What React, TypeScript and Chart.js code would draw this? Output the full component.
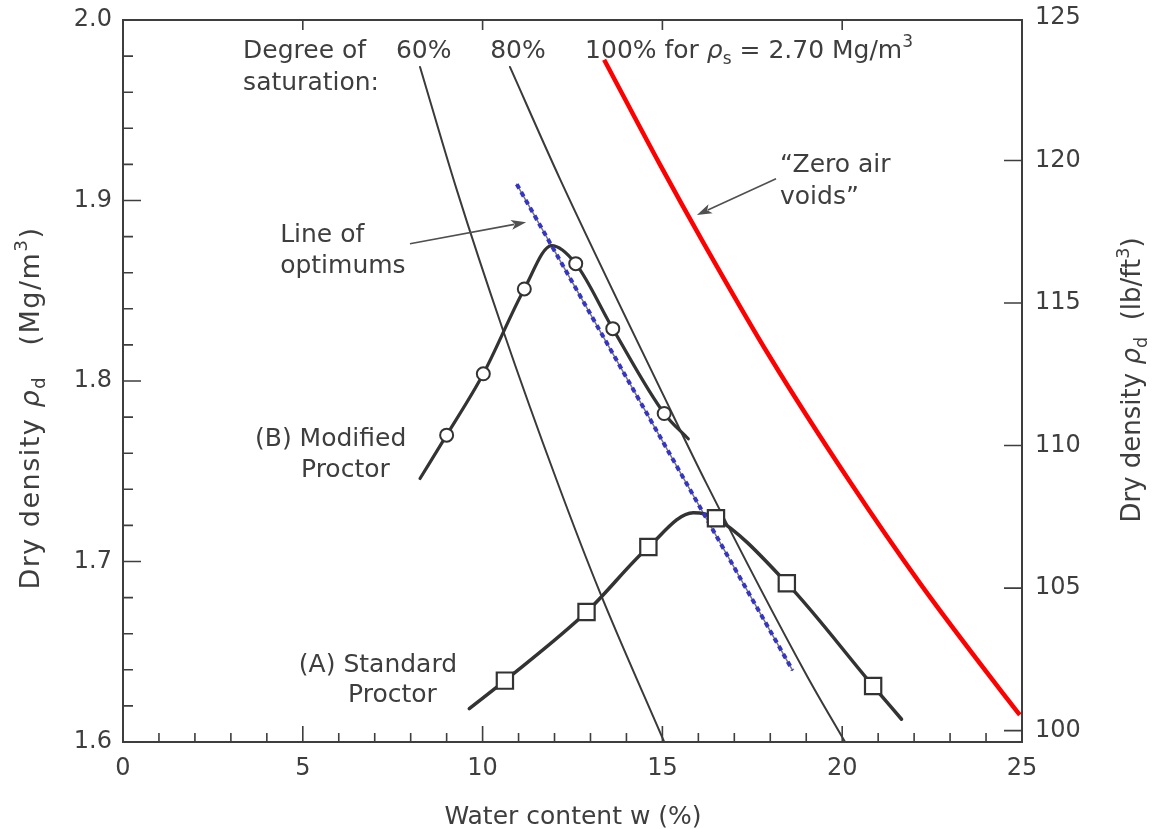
import React, { useEffect, useRef } from 'react';
import { Chart, registerables } from 'chart.js';

Chart.register(...registerables);

// ---------- data ----------
const waterTicks = [0, 5, 10, 15, 20, 25];
const densityTicks = [1.6, 1.7, 1.8, 1.9, 2.0];
const lbTicks = [100, 105, 110, 115, 120, 125];

// (B) Modified Proctor
const modifiedCurveW = [8.26, 9.0, 10.02, 11.16, 11.92, 12.59, 13.62, 15.05, 15.72];
const modifiedCurveRho = [1.746, 1.77, 1.804, 1.851, 1.875, 1.865, 1.829, 1.782, 1.768];
const modifiedPointW = [9.0, 10.02, 11.16, 12.59, 13.62, 15.05];
const modifiedPointRho = [1.77, 1.804, 1.851, 1.865, 1.829, 1.782];

// (A) Standard Proctor
const standardCurveW = [9.63, 10.62, 12.89, 14.61, 15.86, 16.49, 18.46, 20.86, 21.65];
const standardCurveRho = [1.6185, 1.634, 1.672, 1.708, 1.727, 1.724, 1.688, 1.631, 1.6126];
const standardPointW = [10.62, 12.89, 14.61, 16.49, 18.46, 20.86];
const standardPointRho = [1.634, 1.672, 1.708, 1.724, 1.688, 1.631];

// Degree of saturation lines
const sat60W = [8.26, 9.28, 10.57, 12.06, 13.26, 15.05];
const sat60Rho = [1.974, 1.906, 1.828, 1.745, 1.683, 1.6];
const sat80W = [10.76, 12.15, 15.03, 16.23, 19.01, 20.08];
const sat80Rho = [1.974, 1.912, 1.792, 1.743, 1.637, 1.6];
const sat100W = [13.38, 14.93, 16.13, 18.0, 20.22, 22.16, 24.39, 24.94];
const sat100Rho = [1.978, 1.92, 1.877, 1.813, 1.744, 1.688, 1.629, 1.615];

// Line of optimums
const optimumW = [10.95, 18.62];
const optimumRho = [1.909, 1.6397];

// right axis (lb/ft3) range as printed against the left axis
const lbMin = 99.6;
const lbMax = 124.93;

// ---------- styles ----------
const INK = '#3e3e3e';
const FONT = 'DejaVu Sans';

type Seg = { t: string; k?: 'i' | 'sub' | 'sup' };

const fontFor = (size: number, k?: string) => {
  if (k === 'sub' || k === 'sup') return `${(size * 0.68).toFixed(1)}px "${FONT}"`;
  if (k === 'i') return `italic ${size}px "${FONT}"`;
  return `${size}px "${FONT}"`;
};

const measureRich = (ctx: CanvasRenderingContext2D, segs: Seg[], size: number) => {
  let w = 0;
  for (const s of segs) {
    ctx.font = fontFor(size, s.k);
    w += ctx.measureText(s.t).width;
  }
  return w;
};

const drawRich = (
  ctx: CanvasRenderingContext2D,
  segs: Seg[],
  x: number,
  yMid: number,
  size: number,
  align: 'left' | 'center' = 'left'
) => {
  let cx = x;
  if (align === 'center') cx = x - measureRich(ctx, segs, size) / 2;
  const base = yMid + size * 0.36;
  ctx.textAlign = 'left';
  ctx.textBaseline = 'alphabetic';
  for (const s of segs) {
    ctx.font = fontFor(size, s.k);
    let by = base;
    if (s.k === 'sub') by = base + size * 0.24;
    if (s.k === 'sup') by = base - size * 0.42;
    ctx.fillText(s.t, cx, by);
    cx += ctx.measureText(s.t).width;
  }
};

// annotation placement in data coordinates (left edge, vertical middle)
const notes: { x: number; y: number; segs: Seg[] }[] = [
  { x: 3.34, y: 1.984, segs: [{ t: 'Degree of' }] },
  { x: 3.34, y: 1.966, segs: [{ t: 'saturation:' }] },
  { x: 7.59, y: 1.984, segs: [{ t: '60%' }] },
  { x: 10.21, y: 1.984, segs: [{ t: '80%' }] },
  {
    x: 12.85,
    y: 1.984,
    segs: [
      { t: '100% for ' },
      { t: 'ρ', k: 'i' },
      { t: 's', k: 'sub' },
      { t: ' = 2.70 Mg/m' },
      { t: '3', k: 'sup' },
    ],
  },
  { x: 4.37, y: 1.882, segs: [{ t: 'Line of' }] },
  { x: 4.37, y: 1.865, segs: [{ t: 'optimums' }] },
  { x: 3.67, y: 1.769, segs: [{ t: '(B) Modified' }] },
  { x: 4.95, y: 1.752, segs: [{ t: 'Proctor' }] },
  { x: 4.89, y: 1.644, segs: [{ t: '(A) Standard' }] },
  { x: 6.26, y: 1.627, segs: [{ t: 'Proctor' }] },
  { x: 18.27, y: 1.921, segs: [{ t: '\u201CZero air' }] },
  { x: 18.27, y: 1.903, segs: [{ t: 'voids\u201D' }] },
];

const arrows = [
  { from: [7.98, 1.876], to: [11.21, 1.888] },
  { from: [18.16, 1.912], to: [15.96, 1.892] },
];

const framePlugin = {
  id: 'frameTicks',
  afterDraw(chart: any) {
    const { ctx, chartArea: a, scales } = chart;
    const xs = scales.x;
    const ys = scales.y;
    const y2 = scales.y2;
    ctx.save();
    ctx.strokeStyle = INK;
    ctx.lineWidth = 2;
    ctx.strokeRect(a.left, a.top, a.right - a.left, a.bottom - a.top);
    ctx.lineWidth = 1.6;
    ctx.beginPath();
    for (let w = 0; w <= 25; w++) {
      const px = xs.getPixelForValue(w);
      const len = w % 5 === 0 ? 16 : 9;
      ctx.moveTo(px, a.bottom);
      ctx.lineTo(px, a.bottom - len);
    }
    for (const w of waterTicks) {
      if (w === 0 || w === 25) continue;
      const px = xs.getPixelForValue(w);
      ctx.moveTo(px, a.top);
      ctx.lineTo(px, a.top + 10);
    }
    for (let i = 0; i <= 20; i++) {
      const py = ys.getPixelForValue(1.6 + i * 0.02);
      const len = i % 5 === 0 ? 18 : 10;
      ctx.moveTo(a.left, py);
      ctx.lineTo(a.left + len, py);
    }
    for (const v of lbTicks) {
      const py = y2.getPixelForValue(v);
      if (py < a.top + 1) continue;
      ctx.moveTo(a.right, py);
      ctx.lineTo(a.right - 18, py);
    }
    ctx.stroke();
    ctx.restore();
  },
};

const textPlugin = {
  id: 'notes',
  afterDraw(chart: any) {
    const { ctx, chartArea: a, scales } = chart;
    const xs = scales.x;
    const ys = scales.y;
    ctx.save();
    ctx.fillStyle = INK;
    for (const n of notes) {
      drawRich(ctx, n.segs, xs.getPixelForValue(n.x), ys.getPixelForValue(n.y), 25);
    }
    // arrows
    ctx.strokeStyle = '#505050';
    ctx.fillStyle = '#505050';
    ctx.lineWidth = 1.6;
    for (const ar of arrows) {
      const x0 = xs.getPixelForValue(ar.from[0]);
      const y0 = ys.getPixelForValue(ar.from[1]);
      const x1 = xs.getPixelForValue(ar.to[0]);
      const y1 = ys.getPixelForValue(ar.to[1]);
      const ang = Math.atan2(y1 - y0, x1 - x0);
      const L = 15;
      const W = 5;
      ctx.beginPath();
      ctx.moveTo(x0, y0);
      ctx.lineTo(x1 - Math.cos(ang) * L * 0.8, y1 - Math.sin(ang) * L * 0.8);
      ctx.stroke();
      ctx.beginPath();
      ctx.moveTo(x1, y1);
      ctx.lineTo(x1 - Math.cos(ang) * L - Math.sin(ang) * W, y1 - Math.sin(ang) * L + Math.cos(ang) * W);
      ctx.lineTo(x1 - Math.cos(ang) * L * 0.75, y1 - Math.sin(ang) * L * 0.75);
      ctx.lineTo(x1 - Math.cos(ang) * L + Math.sin(ang) * W, y1 - Math.sin(ang) * L - Math.cos(ang) * W);
      ctx.closePath();
      ctx.fill();
    }
    // axis titles
    ctx.fillStyle = INK;
    drawRich(ctx, [{ t: 'Water content w (%)' }], (a.left + a.right) / 2 + 0.5, 815, 25, 'center');
    ctx.save();
    ctx.translate(29, 408);
    ctx.rotate(-Math.PI / 2);
    (ctx as any).letterSpacing = '1.5px';
    drawRich(
      ctx,
      [
        { t: 'Dry density ' },
        { t: 'ρ', k: 'i' },
        { t: 'd', k: 'sub' },
        { t: '   (Mg/m' },
        { t: '3', k: 'sup' },
        { t: ')' },
      ],
      0,
      0,
      27,
      'center'
    );
    ctx.restore();
    ctx.save();
    ctx.translate(1131, 380);
    ctx.rotate(-Math.PI / 2);
    drawRich(
      ctx,
      [
        { t: 'Dry density ' },
        { t: 'ρ', k: 'i' },
        { t: 'd', k: 'sub' },
        { t: '  (lb/ft' },
        { t: '3', k: 'sup' },
        { t: ')' },
      ],
      0,
      0,
      26,
      'center'
    );
    ctx.restore();
    ctx.restore();
  },
};

const pts = (xs: number[], ys: number[]) => xs.map((x, i) => ({ x, y: ys[i] }));

const lineDs = (label: string, xs: number[], ys: number[], color: string, width: number, order: number, extra: any = {}) => ({
  label,
  data: pts(xs, ys),
  showLine: true,
  borderColor: color,
  borderWidth: width,
  pointRadius: 0,
  pointHoverRadius: 0,
  fill: false,
  cubicInterpolationMode: 'monotone',
  order,
  borderCapStyle: 'round',
  ...extra,
});

export default function App() {
  const ref = useRef<HTMLCanvasElement>(null);
  useEffect(() => {
    document.body.style.margin = '0';
    const canvas = ref.current!;
    const tickFont = { family: FONT, size: 24 };
    const chart = new Chart(canvas, {
      type: 'scatter',
      data: {
        datasets: [
          {
            label: 'Modified Proctor points',
            data: pts(modifiedPointW, modifiedPointRho),
            showLine: false,
            pointStyle: 'circle',
            pointRadius: 6.5,
            pointBackgroundColor: '#ffffff',
            pointBorderColor: '#333333',
            pointBorderWidth: 2,
            order: 0,
          },
          {
            label: 'Standard Proctor points',
            data: pts(standardPointW, standardPointRho),
            showLine: false,
            pointStyle: 'rect',
            pointRadius: 11.5,
            pointBackgroundColor: '#ffffff',
            pointBorderColor: '#333333',
            pointBorderWidth: 2.2,
            order: 0,
          },
          lineDs('Line of optimums', optimumW, optimumRho, '#3434c8', 4, 1, {
            borderDash: [5, 4],
            borderCapStyle: 'butt',
            cubicInterpolationMode: 'default',
            tension: 0,
          }),
          lineDs('Modified Proctor', modifiedCurveW, modifiedCurveRho, '#333333', 3.2, 2),
          lineDs('Standard Proctor', standardCurveW, standardCurveRho, '#333333', 3.5, 2),
          lineDs('Line of optimums (base)', optimumW, optimumRho, '#777777', 1.5, 3, {
            cubicInterpolationMode: 'default',
            tension: 0,
          }),
          lineDs('60%', sat60W, sat60Rho, '#3a3a3a', 2, 4),
          lineDs('80%', sat80W, sat80Rho, '#3a3a3a', 2, 4),
          lineDs('100% (zero air voids)', sat100W, sat100Rho, '#ff0000', 4.5, 4, { borderCapStyle: 'butt' }),
        ] as any,
      },
      options: {
        animation: false,
        responsive: false,
        events: [],
        layout: { padding: { top: 20, left: 0, right: 0, bottom: 0 } },
        plugins: {
          legend: { display: false },
          tooltip: { enabled: false },
          title: { display: false },
        },
        scales: {
          x: {
            type: 'linear',
            position: 'bottom',
            min: 0,
            max: 25,
            afterBuildTicks: (s: any) => {
              s.ticks = waterTicks.map((v) => ({ value: v }));
            },
            afterFit: (s: any) => {
              s.height = 87;
            },
            grid: { display: false, drawTicks: false },
            border: { display: false },
            ticks: { padding: 12, font: tickFont, color: INK, maxRotation: 0, autoSkip: false },
          },
          y: {
            type: 'linear',
            position: 'left',
            min: 1.6,
            max: 2.0,
            afterBuildTicks: (s: any) => {
              s.ticks = densityTicks.map((v) => ({ value: v }));
            },
            afterFit: (s: any) => {
              s.width = 123;
            },
            grid: { display: false, drawTicks: true, tickLength: 11 },
            border: { display: false },
            ticks: {
              padding: 0,
              font: { ...tickFont, lineHeight: 1.0 },
              color: INK,
              autoSkip: false,
              callback: (v: any) => Number(v).toFixed(1),
            },
          },
          y2: {
            type: 'linear',
            position: 'right',
            min: lbMin,
            max: lbMax,
            afterBuildTicks: (s: any) => {
              s.ticks = lbTicks.map((v) => ({ value: v }));
            },
            afterFit: (s: any) => {
              s.width = 135;
            },
            grid: { display: false, drawTicks: true, tickLength: 13 },
            border: { display: false },
            ticks: {
              padding: 0,
              font: { ...tickFont, lineHeight: 1.0 },
              color: INK,
              autoSkip: false,
              callback: (v: any) => String(Math.round(Number(v))),
            },
          },
        },
      } as any,
      plugins: [framePlugin, textPlugin],
    });
    return () => chart.destroy();
  }, []);

  return (
    <div style={{ position: 'fixed', left: 0, top: 0, width: 1157, height: 829, background: '#ffffff' }}>
      <canvas ref={ref} width={1157} height={829} style={{ display: 'block', width: 1157, height: 829 }} />
    </div>
  );
}
